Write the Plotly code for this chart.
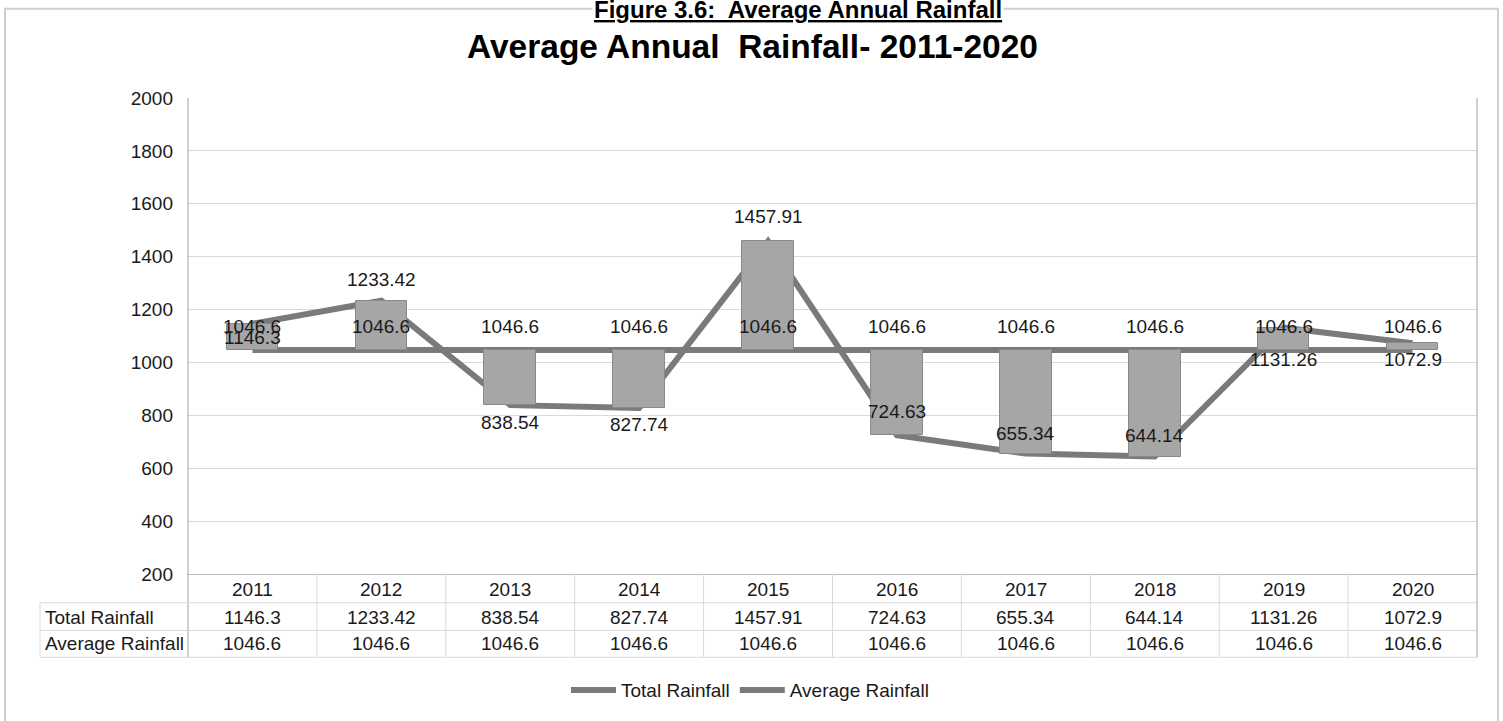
import plotly.graph_objects as go

# ---------------- data ----------------
years = ["2011", "2012", "2013", "2014", "2015", "2016", "2017", "2018", "2019", "2020"]
total_rainfall = [1146.3, 1233.42, 838.54, 827.74, 1457.91, 724.63, 655.34, 644.14, 1131.26, 1072.9]
average_rainfall = [1046.6, 1046.6, 1046.6, 1046.6, 1046.6, 1046.6, 1046.6, 1046.6, 1046.6, 1046.6]
y_ticks = [200, 400, 600, 800, 1000, 1200, 1400, 1600, 1800, 2000]

# ---------------- layout geometry (pixels) ----------------
W, H = 1503, 721
L, R, T, B = 188, 1477, 98, 578
PW, PH = R - L, B - T
FONT = "Liberation Sans, Arial, sans-serif"
FS = 19
TXT = "#1a1a1a"
LINE_C = "#7a7a7a"
GRID_C = "#d9d9d9"

def px_x(x):
    return (x - L) / PW

def px_y(y):
    return (B - y) / PH

# pixel shifts of data labels (style only)
total_label_shift = [-14, 21, -17, -16, 25, 24, 20, 21, -32, -16]
avg_label_shift = 24

fig = go.Figure()

fig.add_trace(go.Scatter(
    x=years, y=total_rainfall, name="Total Rainfall", mode="lines",
    line=dict(color=LINE_C, width=6), xaxis="x", yaxis="y",
))
fig.add_trace(go.Scatter(
    x=years, y=average_rainfall, name="Average Rainfall", mode="lines",
    line=dict(color=LINE_C, width=6), xaxis="x", yaxis="y",
))
# up/down bars between the two series, drawn on an overlay so they sit above the lines
fig.add_trace(go.Bar(
    x=years,
    y=[t - a for t, a in zip(total_rainfall, average_rainfall)],
    base=average_rainfall,
    width=0.4,
    marker=dict(color="#a6a6a6", line=dict(color="#8a8a8a", width=1)),
    showlegend=False, hoverinfo="skip",
    xaxis="x2", yaxis="y2",
))

annotations = []
# data labels (x given as category index)
for i, yr in enumerate(years):
    annotations.append(dict(
        x=i, y=average_rainfall[i], xref="x", yref="y", text=str(average_rainfall[i]),
        showarrow=False, yshift=avg_label_shift, font=dict(family=FONT, size=FS, color=TXT),
    ))
    annotations.append(dict(
        x=i, y=total_rainfall[i], xref="x", yref="y", text=str(total_rainfall[i]),
        showarrow=False, yshift=total_label_shift[i], font=dict(family=FONT, size=FS, color=TXT),
    ))

# data table
row_y = [594, 622, 648]
for i, yr in enumerate(years):
    for ry, val in zip(row_y, [yr, str(total_rainfall[i]), str(average_rainfall[i])]):
        annotations.append(dict(
            x=i, y=px_y(ry), xref="x", yref="paper", text=val, showarrow=False,
            yanchor="middle", font=dict(family=FONT, size=FS, color=TXT),
        ))
for ry, lab in zip(row_y[1:], ["Total Rainfall", "Average Rainfall"]):
    annotations.append(dict(
        x=px_x(43), y=px_y(ry), xref="paper", yref="paper", text=lab, showarrow=False,
        xanchor="left", yanchor="middle", font=dict(family=FONT, size=FS, color=TXT),
    ))

# titles
annotations.append(dict(
    x=px_x(798), y=px_y(9), xref="paper", yref="paper",
    text="<b><u>Figure 3.6:  Average Annual Rainfall</u></b>", showarrow=False,
    xanchor="center", yanchor="middle", bgcolor="white",
    font=dict(family=FONT, size=24, color="#000000"),
))
annotations.append(dict(
    x=px_x(752), y=px_y(46), xref="paper", yref="paper",
    text="<b>Average Annual  Rainfall- 2011-2020</b>", showarrow=False,
    xanchor="center", yanchor="middle",
    font=dict(family=FONT, size=33.5, color="#000000"),
))

shapes = []
# outer chart frame
shapes.append(dict(type="rect", xref="paper", yref="paper",
                   x0=px_x(5), x1=px_x(1498), y0=px_y(740), y1=px_y(8),
                   line=dict(color="#cfcfcf", width=2), layer="below"))
# plot side borders extending through the table
for xp in (0, 1):
    shapes.append(dict(type="line", xref="paper", yref="paper",
                       x0=xp, x1=xp, y0=px_y(662), y1=1,
                       line=dict(color="#a0a0a0", width=1)))
# table horizontal lines
for hy in (607, 635, 662):
    shapes.append(dict(type="line", xref="paper", yref="paper",
                       x0=px_x(40), x1=1, y0=px_y(hy), y1=px_y(hy),
                       line=dict(color=GRID_C, width=1)))
# table left border
shapes.append(dict(type="line", xref="paper", yref="paper",
                   x0=px_x(40), x1=px_x(40), y0=px_y(662), y1=px_y(607),
                   line=dict(color=GRID_C, width=1)))
# table column separators
for i in range(len(years) - 1):
    shapes.append(dict(type="line", xref="x", yref="paper",
                       x0=i + 0.5, x1=i + 0.5, y0=px_y(662), y1=0,
                       line=dict(color=GRID_C, width=1)))

fig.update_layout(
    width=W, height=H,
    margin=dict(l=L, r=W - R, t=T, b=H - B),
    paper_bgcolor="white", plot_bgcolor="white",
    showlegend=True,
    legend=dict(orientation="h", x=px_x(566), xanchor="left", y=px_y(695), yanchor="middle",
                itemwidth=45,
                font=dict(family=FONT, size=FS, color=TXT), bgcolor="rgba(0,0,0,0)"),
    xaxis=dict(type="category", categoryorder="array", categoryarray=years,
               range=[-0.5, len(years) - 0.5], showticklabels=False, ticks="",
               showgrid=False, zeroline=False, showline=True, linecolor="#bfbfbf",
               linewidth=1, fixedrange=True),
    xaxis2=dict(type="category", categoryorder="array", categoryarray=years,
                range=[-0.5, len(years) - 0.5], overlaying="x", visible=False),
    yaxis=dict(range=[200, 2000], tickvals=y_ticks, showgrid=True, gridcolor=GRID_C,
               gridwidth=1, zeroline=False, showline=False, ticks="",
               ticklabelstandoff=14,
               tickfont=dict(family=FONT, size=FS, color=TXT)),
    yaxis2=dict(range=[200, 2000], overlaying="y", visible=False),
    annotations=annotations,
    shapes=shapes,
    bargap=0,
)

# remove the page's default 8px body margin so the figure fills the window exactly
fig.write_html(
    "out.html",
    config={"displayModeBar": False},
    post_script="document.body.style.margin='0';document.body.style.overflow='hidden';",
)
